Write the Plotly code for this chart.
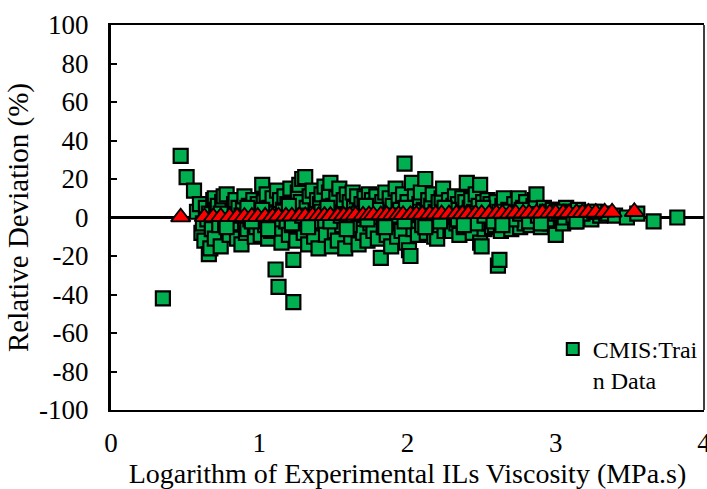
import plotly.graph_objects as go

# ---- data ----
train_x = [
    0.35, 0.47, 0.51, 0.56, 0.58, 0.60, 0.61, 0.62, 0.63, 0.64,
    0.65, 0.66, 0.66, 0.67, 0.68, 0.69, 0.70, 0.70, 0.71, 0.72,
    0.73, 0.74, 0.75, 0.76, 0.77, 0.78, 0.79, 0.80, 0.81, 0.82,
    0.83, 0.84, 0.85, 0.86, 0.87, 0.88, 0.89, 0.90, 0.91, 0.92,
    0.93, 0.94, 0.95, 0.96, 0.97, 0.98, 0.99, 1.00, 1.01, 1.02,
    1.03, 1.04, 1.05, 1.06, 1.07, 1.08, 1.09, 1.10, 1.11, 1.12,
    1.13, 1.13, 1.14, 1.15, 1.16, 1.17, 1.18, 1.19, 1.20, 1.21,
    1.22, 1.23, 1.23, 1.24, 1.25, 1.26, 1.27, 1.27, 1.28, 1.29,
    1.30, 1.31, 1.32, 1.33, 1.34, 1.35, 1.36, 1.37, 1.38, 1.39,
    1.40, 1.41, 1.42, 1.43, 1.44, 1.45, 1.46, 1.47, 1.48, 1.49,
    1.50, 1.51, 1.52, 1.53, 1.54, 1.55, 1.56, 1.57, 1.58, 1.59,
    1.60, 1.61, 1.62, 1.63, 1.64, 1.65, 1.66, 1.67, 1.68, 1.69,
    1.70, 1.71, 1.72, 1.73, 1.74, 1.75, 1.76, 1.77, 1.78, 1.79,
    1.80, 1.81, 1.82, 1.83, 1.84, 1.85, 1.86, 1.87, 1.88, 1.89,
    1.90, 1.91, 1.92, 1.93, 1.94, 1.95, 1.96, 1.97, 1.98, 1.99,
    2.00, 2.01, 2.02, 2.02, 2.03, 2.04, 2.05, 2.06, 2.07, 2.08,
    2.09, 2.10, 2.11, 2.12, 2.13, 2.14, 2.15, 2.16, 2.17, 2.18,
    2.19, 2.20, 2.21, 2.22, 2.23, 2.24, 2.25, 2.26, 2.27, 2.28,
    2.29, 2.30, 2.31, 2.32, 2.33, 2.34, 2.35, 2.36, 2.37, 2.38,
    2.39, 2.40, 2.41, 2.42, 2.43, 2.44, 2.45, 2.46, 2.47, 2.48,
    2.49, 2.49, 2.50, 2.51, 2.52, 2.53, 2.54, 2.55, 2.56, 2.57,
    2.58, 2.59, 2.60, 2.61, 2.62, 2.62, 2.63, 2.64, 2.65, 2.66,
    2.68, 2.70, 2.72, 2.73, 2.75, 2.76, 2.78, 2.79, 2.80, 2.82,
    2.83, 2.85, 2.86, 2.87, 2.88, 2.90, 2.92, 2.94, 2.96, 2.98,
    3.00, 3.01, 3.03, 3.05, 3.07, 3.09, 3.11, 3.13, 3.15, 3.18,
    3.21, 3.24, 3.27, 3.30, 3.34, 3.40, 3.48, 3.55, 3.66, 3.82,
    0.74, 0.81, 0.88, 0.95, 1.02, 1.09, 1.16, 1.22, 1.29, 1.35,
    1.42, 1.48, 1.55, 1.61, 1.67, 1.73, 1.79, 1.86, 1.92, 1.98,
    2.04, 2.10, 2.16, 2.22, 2.28, 2.34, 2.40, 2.46, 2.52, 2.58,
    2.64, 2.70, 2.76, 2.82, 2.88, 2.94, 3.00, 3.06, 3.12, 3.18,
    0.78, 0.92, 1.06, 1.20, 1.33, 1.46, 1.59, 1.72, 1.85, 1.99,
    2.12, 2.25, 2.38, 2.51, 2.64, 2.77, 2.90, 3.02, 3.14, 3.26,
]
train_dev = [
    -42, 32, 21, 14, 3, 7, -8, -3, -12, 5,
    -1, -19, 2, -16, -6, 9, 10, -11, 4, 6,
    -4, -15, 8, 11, -3, 12, -7, -9, 1, 3,
    7, 9, -11, 5, -2, -14, 4, 11, -8, -6,
    6, -1, 2, 9, -10, -5, 7, 3, -9, 17,
    8, -4, 12, -11, 5, -7, 10, 2, -27, 14,
    -36, -6, 9, -13, 4, 11, -2, 7, -9, 15,
    -4, -44, -22, 6, -12, 13, 17, -3, 8, 20,
    -8, 21, 5, -14, 11, -5, 14, -10, 3, 9,
    -16, 7, 12, -3, 16, -9, 4, 13, 18, -15,
    6, -7, 10, -12, 15, 2, -4, 9, -16, 12,
    -2, 8, -10, 13, 5, -6, 11, -14, 3, 7,
    -8, 10, 4, -12, 12, -3, 9, -7, 6, 11,
    -11, 3, -21, 8, -5, 13, -9, 2, 10, -15,
    6, -4, 15, -10, 9, 4, -7, 12, 28, -13,
    8, -17, -20, 2, 18, -6, 11, 5, -9, 7,
    13, -3, 4, 20, -8, 9, -5, 6, 12, -10,
    3, -11, 8, -4, 10, 15, -7, 5, 2, 9,
    -6, -7, 6, 11, -3, 7, -9, 4, 10, -5,
    8, 18, -4, 5, 9, -8, 3, 12, -2, 6,
    17, -13, -15, 8, -6, 4, 9, -3, 7, -5,
    5, -4, 8, -25, -22, 3, -7, 6, 10, -2,
    4, -6, 7, 2, 10, -5, 5, -3, 8, 3,
    -4, 6, 9, 12, 1, -5, 5, 3, -3, 4,
    -9, 2, 4, -3, 5, 1, 3, -2, 4, 1,
    2, -1, 3, 1, 2, 1, 0, 2, -2, 0,
    2, -3, 1, -2, 4, -1, 3, -3, 1, -2,
    3, -2, 1, -4, 2, -1, 4, -3, 1, -2,
    3, -4, 1, -2, 4, -1, 2, -3, 1, -2,
    3, -1, 2, -2, 1, -1, 2, 0, 1, 2,
    -5, 5, -6, 6, -5, 5, -6, 6, -5, 5,
    -5, 5, -4, 5, -4, 4, -3, 3, -2, 3,
]

model_x = [
    0.47, 0.63, 0.69, 0.74, 0.80, 0.85, 0.90, 0.95, 0.99, 1.04,
    1.09, 1.13, 1.18, 1.22, 1.27, 1.31, 1.36, 1.40, 1.44, 1.48,
    1.53, 1.57, 1.61, 1.65, 1.70, 1.74, 1.77, 1.82, 1.86, 1.90,
    1.94, 1.97, 2.02, 2.06, 2.10, 2.15, 2.19, 2.23, 2.28, 2.33,
    2.37, 2.41, 2.46, 2.50, 2.55, 2.60, 2.64, 2.69, 2.73, 2.78,
    2.82, 2.87, 2.91, 2.96, 3.00, 3.05, 3.09, 3.14, 3.18, 3.22,
    3.27, 3.33, 3.38, 3.53,
]
model_dev = [
    0.2, 0.3, 0.3, 0.4, 0.4, 0.4, 0.5, 0.5, 0.5, 0.6,
    0.6, 0.7, 0.7, 0.7, 0.8, 0.8, 0.9, 0.9, 1.0, 1.0,
    1.0, 1.1, 1.1, 1.2, 1.2, 1.3, 1.3, 1.3, 1.4, 1.4,
    1.5, 1.5, 1.5, 1.6, 1.6, 1.7, 1.7, 1.8, 1.8, 1.9,
    1.9, 1.9, 2.0, 2.0, 2.0, 2.1, 2.1, 2.1, 2.2, 2.2,
    2.2, 2.3, 2.3, 2.3, 2.4, 2.4, 2.4, 2.5, 2.5, 2.6,
    2.6, 2.7, 2.7, 3.0,
]

x_ticks = [0, 1, 2, 3, 4]
y_ticks = [-100, -80, -60, -40, -20, 0, 20, 40, 60, 80, 100]

FONT = "Liberation Serif, Times New Roman, serif"

fig = go.Figure()
fig.add_trace(go.Scatter(
    x=train_x, y=train_dev, mode="markers", name="CMIS:Trai<br>n Data",
    marker=dict(symbol="square", size=14, color="#00B050",
                line=dict(color="black", width=2.2)),
))
fig.add_trace(go.Scatter(
    x=model_x, y=model_dev, mode="markers", showlegend=False,
    marker=dict(symbol="triangle-up", size=17, color="#FF0000",
                line=dict(color="black", width=1.8)),
))

fig.update_layout(
    width=707, height=489,
    margin=dict(l=111, r=3, t=25, b=79, autoexpand=False),
    paper_bgcolor="white", plot_bgcolor="white",
    font=dict(family=FONT, color="black", size=22),
    showlegend=True,
    legend=dict(x=0.745, y=0.216, xanchor="left", yanchor="top", valign="top",
                bgcolor="rgba(0,0,0,0)", borderwidth=0,
                font=dict(family=FONT, size=24, color="black"),
                itemsizing="constant", itemwidth=30, tracegroupgap=0),
    xaxis=dict(range=[0, 4], tickmode="array", tickvals=x_ticks,
               ticktext=[str(v) for v in x_ticks],
               showgrid=False, zeroline=False,
               showline=True, linecolor="black", linewidth=1.5, mirror=True,
               ticks="", tickfont=dict(family=FONT, size=27),
               ticklabelstandoff=8, ticklabeloverflow="allow",
               title=dict(text="Logarithm of Experimental ILs Viscosity (MPa.s)",
                          font=dict(family=FONT, size=28), standoff=3)),
    yaxis=dict(range=[-100, 100], tickmode="array", tickvals=y_ticks,
               ticktext=[str(v) for v in y_ticks],
               showgrid=False, zeroline=True, zerolinecolor="black", zerolinewidth=3,
               showline=True, linecolor="black", linewidth=3,
               ticks="inside", ticklen=6, tickwidth=2, tickcolor="black",
               tickfont=dict(family=FONT, size=27), ticklabelstandoff=14,
               title=dict(text="Relative Deviation (%)",
                          font=dict(family=FONT, size=29), standoff=2)),
    shapes=[dict(type="line", xref="paper", yref="paper", x0=1, x1=1, y0=0, y1=1,
                 line=dict(color="black", width=1.5))],
)

fig.write_html(
    "out.html",
    config={"displayModeBar": False},
    post_script="document.body.style.margin='0';document.body.style.overflow='hidden';",
)
